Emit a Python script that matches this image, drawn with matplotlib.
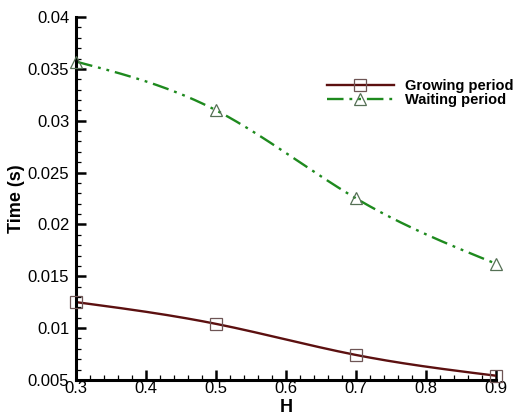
import numpy as np
import matplotlib
matplotlib.use('Agg')
import matplotlib.pyplot as plt
from matplotlib.ticker import MultipleLocator, FormatStrFormatter

plt.rcParams['font.family'] = ['Liberation Sans', 'DejaVu Sans']

# 数据
H = [0.3, 0.5, 0.7, 0.9]
growing = [0.0125, 0.0104, 0.0074, 0.0054]
waiting = [0.0357, 0.0310, 0.0225, 0.0162]


def smooth(x, y, n=200):
    # natural cubic spline through the data points (for drawing only)
    x = np.asarray(x, float)
    y = np.asarray(y, float)
    k = len(x)
    h = np.diff(x)
    A = np.zeros((k, k))
    b = np.zeros(k)
    A[0, 0] = A[-1, -1] = 1
    for i in range(1, k - 1):
        A[i, i - 1] = h[i - 1]
        A[i, i] = 2 * (h[i - 1] + h[i])
        A[i, i + 1] = h[i]
        b[i] = 6 * ((y[i + 1] - y[i]) / h[i] - (y[i] - y[i - 1]) / h[i - 1])
    M = np.linalg.solve(A, b)
    xs = np.linspace(x[0], x[-1], n)
    ys = np.empty_like(xs)
    for j, xv in enumerate(xs):
        i = min(np.searchsorted(x, xv, side='right') - 1, k - 2)
        t1 = x[i + 1] - xv
        t2 = xv - x[i]
        ys[j] = (M[i] * t1 ** 3 / (6 * h[i]) + M[i + 1] * t2 ** 3 / (6 * h[i])
                 + (y[i] / h[i] - M[i] * h[i] / 6) * t1
                 + (y[i + 1] / h[i] - M[i + 1] * h[i] / 6) * t2)
    return xs, ys


fig = plt.figure(figsize=(5.19, 4.17), dpi=100)
ax = fig.add_axes([0.147, 0.089, 0.809, 0.870])

c_grow = '#5c1010'
c_wait = '#1e8a1e'
dash = [7, 2.5, 1.2, 2.5, 1.2, 2.5]

xs, ys = smooth(H, growing)
ax.plot(xs, ys, color=c_grow, lw=1.7, zorder=2)
ax.plot(H, growing, ls='none', marker='s', ms=9, mfc='none', mec='#6e5555',
        mew=0.9, clip_on=False, zorder=3)

xs, ys = smooth(H, waiting)
ax.plot(xs, ys, color=c_wait, lw=1.7, dashes=dash, zorder=2)
ax.plot(H, waiting, ls='none', marker='^', ms=9, mfc='none', mec='#557055',
        mew=0.9, clip_on=False, zorder=3)

# legend proxies
ax.plot([], [], color=c_grow, lw=1.7, marker='s', ms=9, mfc='none',
        mec='#6e5555', mew=0.9, label='Growing period')
ax.plot([], [], color=c_wait, lw=1.7, dashes=dash,
        marker='^', ms=9, mfc='none', mec='#557055', mew=0.9, label='Waiting period')
handles, labels = ax.get_legend_handles_labels()
ax.legend(handles, labels, loc='upper left', bbox_to_anchor=(0.583, 0.845),
          frameon=False, handlelength=4.6, handletextpad=0.75, labelspacing=0.0,
          borderaxespad=0, prop={'weight': 'bold', 'size': 10.5})

ax.set_xlim(0.3, 0.9)
ax.set_ylim(0.005, 0.04)
ax.xaxis.set_major_locator(MultipleLocator(0.1))
ax.xaxis.set_minor_locator(MultipleLocator(0.02))
ax.yaxis.set_major_locator(MultipleLocator(0.005))
ax.yaxis.set_minor_locator(MultipleLocator(0.001))
ax.xaxis.set_major_formatter(FormatStrFormatter('%g'))
ax.yaxis.set_major_formatter(FormatStrFormatter('%g'))

for s in ['top', 'right']:
    ax.spines[s].set_visible(False)
for s in ['left', 'bottom']:
    ax.spines[s].set_linewidth(2.2)

ax.tick_params(which='major', direction='in', length=7, width=1.8,
               labelsize=12)
ax.tick_params(axis='x', which='major', pad=1)
ax.tick_params(axis='y', which='major', pad=5)
ax.tick_params(which='minor', direction='in', length=3.5, width=0.9)

ax.set_xlabel('H', fontsize=13, fontweight='bold', labelpad=2)
ax.set_ylabel('Time (s)', fontsize=13, fontweight='bold', labelpad=2)

fig.savefig('out.png', dpi=100)
